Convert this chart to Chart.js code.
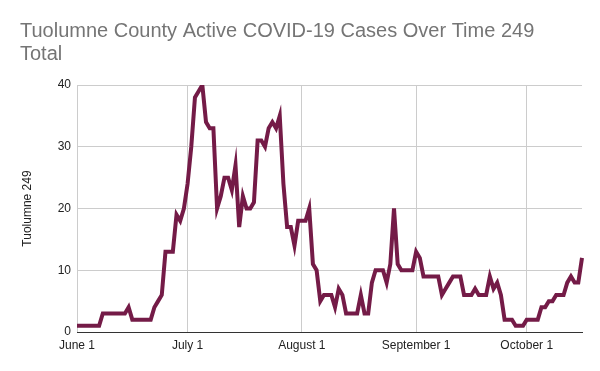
<!DOCTYPE html>
<html>
<head>
<meta charset="utf-8">
<script src="https://cdn.jsdelivr.net/npm/chart.js@4"></script>
<style>
  html, body { margin: 0; padding: 0; background: #fff; }
  #wrap { width: 600px; height: 371px; }
</style>
</head>
<body>
<div id="wrap"><canvas id="chart"></canvas></div>
<script>
const chartTitle = ["Tuolumne County Active COVID-19 Cases Over Time 249", "Total"];
const yAxisTitle = "Tuolumne 249";
const firstDay = "2020-06-01";

// active cases, one value per day from June 1 to October 16
const activeCases = [
  1, 1, 1, 1, 1, 1, 1, 3, 3, 3,
  3, 3, 3, 3, 4, 2, 2, 2, 2, 2,
  2, 4, 5, 6, 13, 13, 13, 19, 18, 20,
  24, 30, 38, 39, 40, 34, 33, 33, 20, 22,
  25, 25, 23, 27, 17, 22, 20, 20, 21, 31,
  31, 30, 33, 34, 33, 35, 24, 17, 17, 14,
  18, 18, 18, 20, 11, 10, 5, 6, 6, 6,
  4, 7, 6, 3, 3, 3, 3, 6, 3, 3,
  8, 10, 10, 10, 8, 11, 20, 11, 10, 10,
  10, 10, 13, 12, 9, 9, 9, 9, 9, 6,
  7, 8, 9, 9, 9, 6, 6, 6, 7, 6,
  6, 6, 9, 7, 8, 6, 2, 2, 2, 1,
  1, 1, 2, 2, 2, 2, 4, 4, 5, 5,
  6, 6, 6, 8, 9, 8, 8, 12
];

const tickDays = ["6/1", "7/1", "8/1", "9/1", "10/1"];
const tickNames = ["June 1", "July 1", "August 1", "September 1", "October 1"];
const yTicks = [0, 10, 20, 30, 40];

// one category per day
const start = new Date(firstDay + "T00:00:00Z");
const days = activeCases.map((_, i) => {
  const d = new Date(start.getTime() + i * 86400000);
  return (d.getUTCMonth() + 1) + "/" + d.getUTCDate();
});

Chart.defaults.font.family = "'Liberation Sans', Arial, sans-serif";
Chart.defaults.font.size = 12;
Chart.defaults.color = "#222222";

const ctx = document.getElementById("chart").getContext("2d");
new Chart(ctx, {
  type: "line",
  data: {
    labels: days,
    datasets: [{
      label: yAxisTitle,
      data: activeCases,
      borderColor: "#741b47",
      borderWidth: 4,
      pointRadius: 0,
      tension: 0,
      fill: false
    }]
  },
  options: {
    responsive: true,
    maintainAspectRatio: false,
    animation: false,
    layout: { padding: { left: 20, right: 18, top: 0, bottom: 0 } },
    plugins: {
      legend: { display: false },
      tooltip: { enabled: false },
      title: {
        display: true,
        text: chartTitle,
        align: "start",
        color: "#757575",
        font: { size: 20, weight: "normal", lineHeight: 1.15 },
        padding: { top: 20, bottom: 19 }
      }
    },
    scales: {
      x: {
        type: "category",
        offset: false,
        grid: { color: "#cccccc", drawTicks: false },
        border: { color: "#333333" },
        ticks: {
          autoSkip: false,
          maxRotation: 0,
          padding: 6,
          color: "#222222",
          callback: function (value) {
            const i = tickDays.indexOf(this.getLabelForValue(value));
            return i >= 0 ? tickNames[i] : null;
          }
        },
        afterFit: s => { s.height = 39; }
      },
      y: {
        min: yTicks[0],
        max: yTicks[yTicks.length - 1],
        afterBuildTicks: s => { s.ticks = yTicks.map(v => ({ value: v })); },
        grid: {
          drawTicks: false,
          color: c => c.tick && c.tick.value === 0 ? "#333333" : "#cccccc"
        },
        border: { display: false },
        ticks: { padding: 6, color: "#222222" },
        title: {
          display: true,
          text: yAxisTitle,
          color: "#222222",
          font: { size: 12 },
          padding: { top: 0, bottom: 0 }
        },
        afterFit: s => { s.width = 57; }
      }
    }
  }
});
</script>
</body>
</html>
